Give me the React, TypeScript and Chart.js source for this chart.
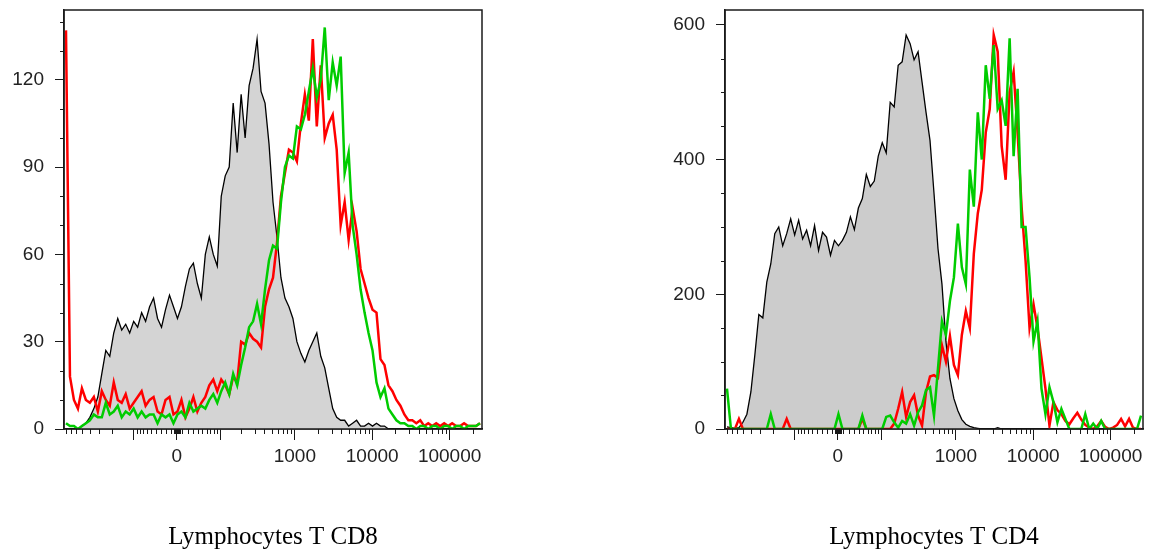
import React, { useEffect, useRef } from "react";
import { Chart, registerables } from "chart.js";

Chart.register(...registerables);

// ---- axis (biexponential display, arcsinh) ----
const ASINH_W = 60;
const X_LOW = -861;
const X_HIGH = 262144;
const D = (v: number) => Math.asinh(v / ASINH_W);
const D_MIN = D(X_LOW);
const D_MAX = D(X_HIGH);

const X_MAJOR_VALUES = [-100, 0, 100, 1000, 10000, 100000];
const X_MAJOR_LABELS = ["", "0", "", "1000", "10000", "100000"];
const X_MINOR_VALUES = [
  -800, -700, -600, -500, -400, -300, -200,
  -90, -80, -70, -60, -50, -40, -30, -20, -10,
  -5, -4, -3, -2, -1, 1, 2, 3, 4, 5,
  10, 20, 30, 40, 50, 60, 70, 80, 90,
  200, 300, 400, 500, 600, 700, 800, 900,
  2000, 3000, 4000, 5000, 6000, 7000, 8000, 9000,
  20000, 30000, 40000, 50000, 60000, 70000, 80000, 90000,
  200000,
];

// ---- Lymphocytes T CD8 ----
const CD8_TITLE = "Lymphocytes T CD8";
const CD8_Y_MAX = 144;
const CD8_Y_MAJOR = [0, 30, 60, 90, 120];
const CD8_Y_MINOR = [10, 20, 40, 50, 70, 80, 100, 110, 130, 140];
const CD8_CONTROL = [
  0, 0, 0, 0, 1, 2, 4, 7, 11, 19,
  27, 25, 33, 38, 34, 36, 33, 37, 35, 40,
  37, 42, 45, 38, 35, 41, 46, 42, 38, 42,
  49, 55, 57, 50, 45, 60, 66, 60, 56, 80,
  87, 90, 112, 95, 115, 100, 118, 124, 134, 116,
  112, 98, 78, 66, 52, 45, 42, 38, 30, 26,
  23, 27, 30, 33, 25, 21, 14, 7, 4, 3,
  3, 1, 2, 3, 1, 1, 2, 1, 2, 1,
  1, 0, 0, 0, 0, 0, 0, 0, 0, 0,
  0, 0, 0, 0, 0, 0, 0, 0, 0, 0,
  0, 0, 0, 0, 0,
];
const CD8_RED = [
  137, 18, 10, 7, 14, 10, 9, 11, 6, 13,
  10, 8, 16, 10, 9, 12, 7, 9, 11, 13,
  8, 10, 11, 6, 5, 10, 11, 5, 6, 10,
  4, 7, 11, 6, 9, 11, 15, 17, 13, 17,
  15, 12, 18, 16, 30, 29, 33, 31, 30, 28,
  42, 48, 52, 64, 80, 88, 96, 95, 92, 105,
  115, 106, 134, 104, 125, 100, 105, 108, 96, 70,
  78, 65, 76, 68, 55, 50, 45, 41, 40, 24,
  22, 15, 13, 10, 8, 5, 3, 3, 2, 3,
  1, 2, 1, 2, 1, 2, 1, 2, 1, 1,
  2, 1, 1, 1, 2,
];
const CD8_GREEN = [
  2, 1, 1, 0, 1, 2, 3, 5, 4, 4,
  9, 5, 6, 8, 4, 6, 5, 7, 4, 6,
  4, 5, 5, 2, 5, 4, 5, 2, 5, 6,
  4, 9, 6, 7, 8, 7, 10, 12, 9, 13,
  16, 12, 19, 15, 22, 28, 35, 37, 43, 36,
  48, 58, 63, 62, 78, 90, 94, 93, 104, 103,
  108, 116, 124, 114, 120, 138, 113, 126, 118, 128,
  88, 95, 70, 60, 48, 40, 33, 27, 16, 11,
  14, 7, 5, 3, 2, 2, 1, 1, 0, 1,
  1, 0, 1, 1, 0, 1, 1, 0, 1, 1,
  0, 1, 1, 1, 2,
];

// ---- Lymphocytes T CD4 ----
const CD4_TITLE = "Lymphocytes T CD4";
const CD4_Y_MAX = 622;
const CD4_Y_MAJOR = [0, 200, 400, 600];
const CD4_Y_MINOR = [50, 100, 150, 250, 300, 350, 450, 500, 550];
const CD4_CONTROL = [
  3, 2, 1, 2, 10, 22, 55, 110, 170, 165,
  218, 245, 290, 300, 272, 290, 312, 288, 310, 282,
  295, 272, 302, 265, 292, 285, 258, 280, 272, 280,
  292, 315, 296, 328, 342, 378, 360, 368, 405, 425,
  410, 485, 478, 540, 545, 585, 572, 548, 560, 515,
  470, 428, 350, 268, 215, 130, 75, 45, 27, 14,
  7, 4, 2, 1, 0, 0, 0, 0, 2, 0,
  0, 0, 0, 0, 0, 0, 0, 0, 0, 0,
  0, 0, 0, 0, 0, 0, 0, 0, 0, 0,
  0, 0, 0, 0, 0, 0, 0, 0, 0, 0,
  0, 0, 0, 0, 0,
];
const CD4_RED = [
  0, 0, 0, 15, 0, 0, 0, 0, 0, 0,
  0, 0, 0, 0, 0, 15, 0, 0, 0, 0,
  0, 0, 0, 0, 0, 0, 0, 0, 0, 0,
  0, 0, 0, 0, 15, 0, 0, 0, 0, 0,
  0, 0, 8, 30, 55, 18, 40, 50, 20, 5,
  55, 78, 80, 76, 124, 100, 138, 95, 80, 140,
  175, 150, 260, 320, 355, 440, 475, 585, 560, 420,
  370, 500, 530, 440, 330, 250, 150, 185, 150, 105,
  60, 5, 40, 28, 22, 12, 7, 16, 24, 14,
  6, 2, 0, 4, 12, 3, 0, 2, 6, 15,
  4, 15, 2, 0, 0,
];
const CD4_GREEN = [
  60, 0, 0, 0, 0, 0, 0, 0, 0, 0,
  0, 22, 0, 0, 0, 0, 0, 0, 0, 0,
  0, 0, 0, 0, 0, 0, 0, 0, 22, 0,
  0, 0, 0, 0, 20, 0, 0, 0, 0, 0,
  18, 20, 10, 2, 12, 8, 22, 5, 25, 35,
  58, 62, 20, 90, 160, 140, 190, 225, 305, 240,
  215, 385, 330, 470, 400, 540, 490, 570, 475, 488,
  450, 580, 405, 505, 300, 300, 225, 130, 160, 60,
  22, 62, 40, 10, 30, 15, 0, 0, 0, 0,
  22, 0, 8, 0, 12, 0, 0, 0, 0, 0,
  0, 0, 0, 0, 20,
];

const toPoints = (arr: number[]) => {
  const step = (D_MAX - D_MIN) / arr.length;
  return arr.map((y, i) => ({ x: D_MIN + (i + 0.5) * step, y }));
};

const AXIS_FONT = { family: "'Liberation Sans', Arial, sans-serif", size: 19 };

// canvas: 64px y axis, 418px plot, 64px empty right axis so the title centres on the plot
const CANVAS_W = 546;
const CANVAS_H = 554;

type PanelProps = {
  left: number;
  title: string;
  control: number[];
  red: number[];
  green: number[];
  yMax: number;
  yMajor: number[];
  yMinor: number[];
  fillColor: string;
};

function Panel(p: PanelProps) {
  const ref = useRef<HTMLCanvasElement>(null);
  useEffect(() => {
    const frame = {
      id: "frame",
      afterDraw(chart: any) {
        const { ctx, chartArea: a, scales } = chart;
        ctx.save();
        ctx.strokeStyle = "#1a1a1a";
        ctx.lineWidth = 1;
        ctx.beginPath();
        for (const v of p.yMinor) {
          const py = Math.round(scales.y.getPixelForValue(v)) + 0.5;
          ctx.moveTo(a.left - 4, py);
          ctx.lineTo(a.left, py);
        }
        for (const v of X_MINOR_VALUES) {
          const px = Math.round(scales.x.getPixelForValue(D(v))) + 0.5;
          ctx.moveTo(px, a.bottom);
          ctx.lineTo(px, a.bottom + 5);
        }
        ctx.stroke();
        ctx.lineWidth = 1.5;
        ctx.strokeRect(a.left, a.top, a.right - a.left, a.bottom - a.top);
        ctx.restore();
      },
    };
    const chart = new Chart(ref.current as HTMLCanvasElement, {
      type: "line",
      data: {
        datasets: [
          {
            data: toPoints(p.green),
            borderColor: "#00cc00",
            borderWidth: 2.5,
            pointRadius: 0,
            fill: false,
            tension: 0,
          },
          {
            data: toPoints(p.red),
            borderColor: "#ff0000",
            borderWidth: 2.5,
            pointRadius: 0,
            fill: false,
            tension: 0,
          },
          {
            data: toPoints(p.control),
            borderColor: "#000000",
            backgroundColor: p.fillColor,
            borderWidth: 1.3,
            pointRadius: 0,
            fill: "origin",
            tension: 0,
          },
        ],
      },
      options: {
        responsive: false,
        animation: false,
        devicePixelRatio: 1,
        layout: { padding: { top: 10, right: 0, bottom: 0, left: 0 } },
        plugins: {
          legend: { display: false },
          tooltip: { enabled: false },
          title: {
            display: true,
            text: p.title,
            position: "bottom",
            color: "#000",
            font: { family: "'Liberation Serif', 'Times New Roman', serif", size: 25, weight: "normal" },
            padding: { top: 0, bottom: 2 },
          },
        },
        scales: {
          x: {
            type: "linear",
            min: D_MIN,
            max: D_MAX,
            afterBuildTicks: (s: any) => {
              s.ticks = X_MAJOR_VALUES.map((v) => ({ value: D(v) }));
            },
            afterFit: (s: any) => {
              s.height = 93;
              s.paddingLeft = 0;
              s.paddingRight = 0;
            },
            grid: { drawOnChartArea: false, drawTicks: true, tickLength: 11, color: "#1a1a1a", lineWidth: 1 },
            border: { display: true, color: "#1a1a1a", width: 1.5 },
            ticks: {
              autoSkip: false,
              maxRotation: 0,
              minRotation: 0,
              padding: 5,
              color: "#222",
              font: AXIS_FONT,
              callback: (_v: any, i: number) => X_MAJOR_LABELS[i],
            },
          },
          y: {
            min: 0,
            max: p.yMax,
            afterBuildTicks: (s: any) => {
              s.ticks = p.yMajor.map((v) => ({ value: v }));
            },
            afterFit: (s: any) => {
              s.width = 64;
              s.paddingTop = 0;
              s.paddingBottom = 0;
            },
            grid: { drawOnChartArea: false, drawTicks: true, tickLength: 9, color: "#1a1a1a", lineWidth: 1 },
            border: { display: true, color: "#1a1a1a", width: 1.5 },
            ticks: {
              padding: 11,
              color: "#222",
              font: AXIS_FONT,
              callback: (v: any) => String(v),
            },
          },
          yRight: {
            position: "right",
            min: 0,
            max: p.yMax,
            afterFit: (s: any) => {
              s.width = 64;
              s.paddingTop = 0;
              s.paddingBottom = 0;
            },
            grid: { display: false, drawOnChartArea: false },
            border: { display: false },
            ticks: { display: false },
          },
        },
      } as any,
      plugins: [frame],
    });
    return () => chart.destroy();
  }, []);
  return (
    <canvas
      ref={ref}
      width={CANVAS_W}
      height={CANVAS_H}
      style={{ position: "absolute", left: p.left, top: 0, width: CANVAS_W, height: CANVAS_H, display: "block" }}
    />
  );
}

export default function App() {
  return (
    <div
      style={{
        position: "absolute",
        left: 0,
        top: 0,
        width: 1151,
        height: 554,
        overflow: "hidden",
        background: "#fff",
      }}
    >
      <Panel
        left={0}
        title={CD8_TITLE}
        control={CD8_CONTROL}
        red={CD8_RED}
        green={CD8_GREEN}
        yMax={CD8_Y_MAX}
        yMajor={CD8_Y_MAJOR}
        yMinor={CD8_Y_MINOR}
        fillColor="rgb(212,212,212)"
      />
      <Panel
        left={661}
        title={CD4_TITLE}
        control={CD4_CONTROL}
        red={CD4_RED}
        green={CD4_GREEN}
        yMax={CD4_Y_MAX}
        yMajor={CD4_Y_MAJOR}
        yMinor={CD4_Y_MINOR}
        fillColor="rgb(204,204,204)"
      />
    </div>
  );
}
